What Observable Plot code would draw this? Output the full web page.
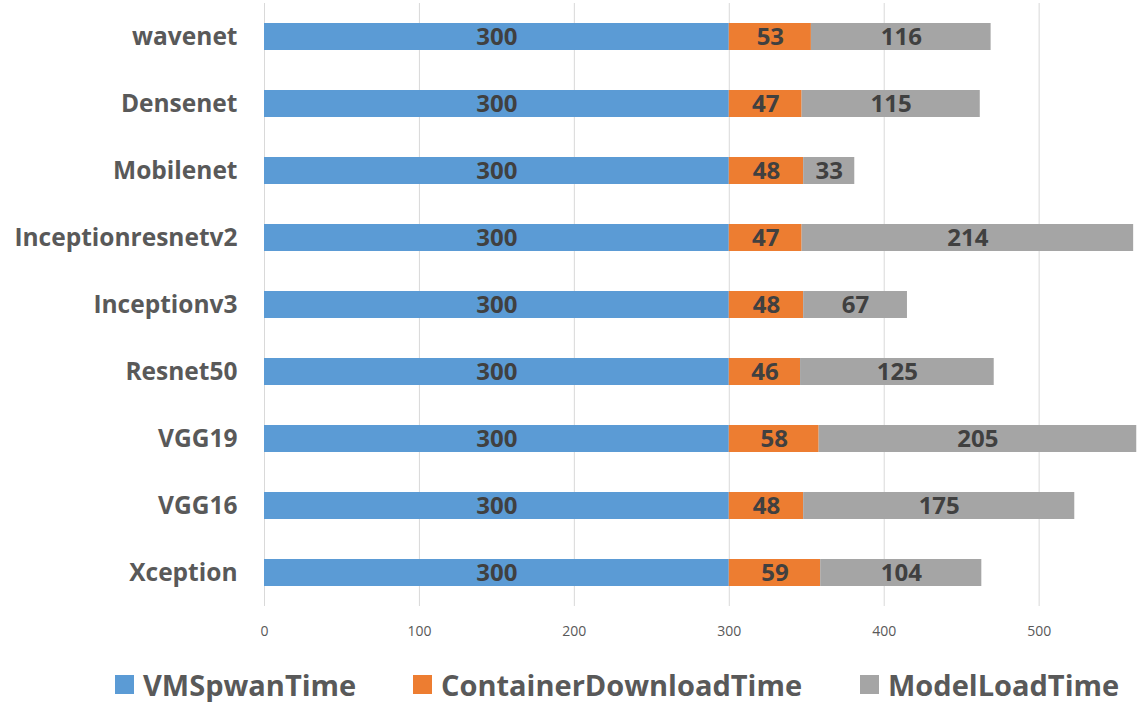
<!DOCTYPE html>
<html>
<head>
<meta charset="utf-8">
<script src="https://cdn.jsdelivr.net/npm/d3@7"></script>
<script src="https://cdn.jsdelivr.net/npm/@observablehq/plot@0.6"></script>
<style>
  html, body { margin: 0; padding: 0; background: #fff; }
  #chart { width: 1144px; }
  .legend { position: relative; height: 48px; font-family: "Open Sans", sans-serif; font-weight: bold; font-size: 29px; color: #595959; }
  .legend .item { display: flex; align-items: center; position: absolute; top: 0; height: 48px; }
  .legend .sw { width: 19px; height: 19px; margin-right: 9px; }
</style>
</head>
<body>
<div id="chart"></div>
<script>
const models = ["wavenet","Densenet","Mobilenet","Inceptionresnetv2","Inceptionv3","Resnet50","VGG19","VGG16","Xception"];
const seriesNames = ["VMSpwanTime","ContainerDownloadTime","ModelLoadTime"];
const vmSpawn = [300,300,300,300,300,300,300,300,300];
const containerDownload = [53,47,48,47,48,46,58,48,59];
const modelLoad = [116,115,33,214,67,125,205,175,104];
const colors = ["#5B9BD5","#ED7D31","#A5A5A5"];
const xTicks = [0,100,200,300,400,500];

const seriesValues = [vmSpawn, containerDownload, modelLoad];
const data = [];
seriesNames.forEach((s, si) => {
  models.forEach((m, mi) => data.push({model: m, series: s, value: seriesValues[si][mi]}));
});

const font = "'Open Sans', sans-serif";
const plot = Plot.plot({
  width: 1144,
  height: 660,
  marginLeft: 264,
  marginRight: 0,
  marginTop: 3,
  marginBottom: 54,
  style: {fontFamily: font, color: "#595959", background: "#fff"},
  x: {domain: [0, 568]},
  y: {domain: models, paddingInner: 0.59, paddingOuter: 0.295},
  color: {domain: seriesNames, range: colors},
  marks: [
    Plot.gridX(xTicks, {stroke: "#d9d9d9", strokeOpacity: 1, strokeWidth: 1}),
    Plot.axisX(xTicks, {tickSize: 0, tickPadding: 20, fontSize: 14, fontFamily: "'Liberation Sans Narrow', 'Open Sans', sans-serif", label: null}),
    Plot.axisY({tickSize: 0, tickPadding: 27, fontSize: 24.5, fontWeight: "bold", label: null}),
    Plot.barX(data, Plot.stackX({x: "value", y: "model", fill: "series", z: "series", order: seriesNames})),
    Plot.text(data, Plot.stackX({x: "value", y: "model", z: "series", order: seriesNames, text: d => String(d.value), fill: "#404040", fontSize: 24, fontWeight: "bold"}))
  ]
});
document.getElementById("chart").appendChild(plot);

const legend = document.createElement("div");
legend.className = "legend";
const lefts = [115, 413, 860];
seriesNames.forEach((s, i) => {
  const it = document.createElement("div");
  it.className = "item";
  it.style.left = lefts[i] + "px";
  const sw = document.createElement("span");
  sw.className = "sw";
  sw.style.background = colors[i];
  const t = document.createElement("span");
  t.textContent = s;
  it.appendChild(sw); it.appendChild(t);
  legend.appendChild(it);
});
document.getElementById("chart").appendChild(legend);
</script>
</body>
</html>
